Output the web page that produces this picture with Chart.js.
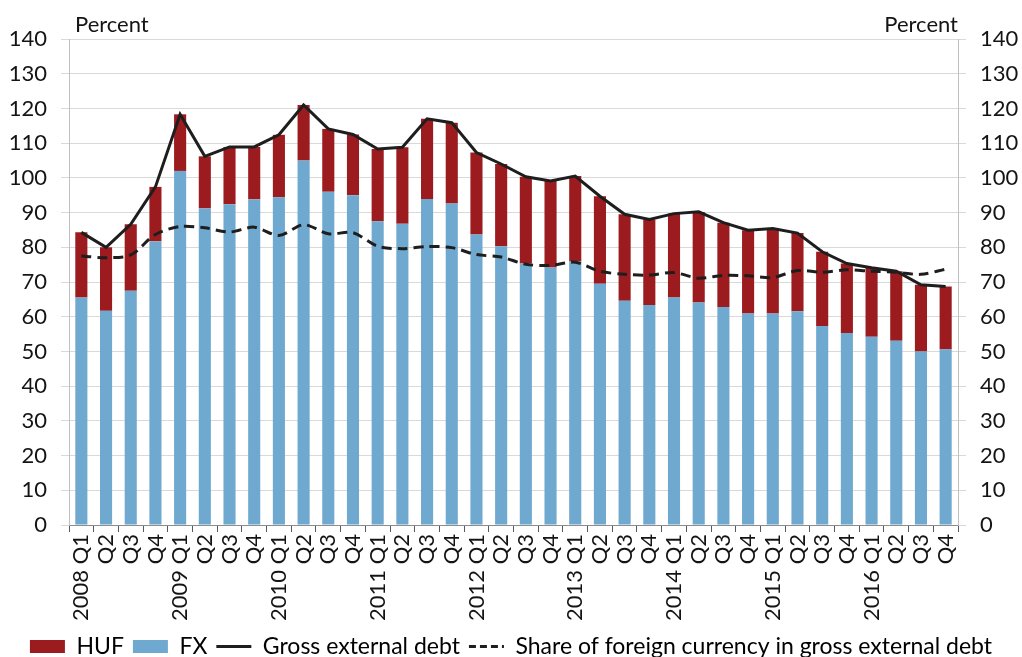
<!DOCTYPE html>
<html>
<head>
<meta charset="utf-8">
<script src="https://cdn.jsdelivr.net/npm/chart.js@4/dist/chart.umd.min.js"></script>
<style>
  html, body { margin: 0; padding: 0; background: #ffffff; }
  #wrap { width: 1022px; height: 657px; position: relative; overflow: hidden; }
</style>
</head>
<body>
<div id="wrap"><canvas id="c" width="1022" height="657"></canvas></div>
<script>
// Quarterly categories, 2008 Q1 – 2016 Q4
const quarters = [
  '2008 Q1','Q2','Q3','Q4',
  '2009 Q1','Q2','Q3','Q4',
  '2010 Q1','Q2','Q3','Q4',
  '2011 Q1','Q2','Q3','Q4',
  '2012 Q1','Q2','Q3','Q4',
  '2013 Q1','Q2','Q3','Q4',
  '2014 Q1','Q2','Q3','Q4',
  '2015 Q1','Q2','Q3','Q4',
  '2016 Q1','Q2','Q3','Q4'
];

// Foreign-currency part of gross external debt (percent of GDP)
const fxDebt = [
  65.5, 61.7, 67.5, 81.7,
  102.0, 91.2, 92.4, 93.8,
  94.4, 105.0, 96.0, 95.0,
  87.5, 86.8, 93.9, 92.6,
  83.7, 80.3, 75.3, 74.2,
  75.9, 69.5, 64.6, 63.4,
  65.5, 64.1, 62.8, 60.9,
  60.9, 61.6, 57.3, 55.3,
  54.2, 53.1, 50.0, 50.6
];

// Forint part of gross external debt (percent of GDP)
const hufDebt = [
  18.8, 18.3, 19.1, 15.7,
  16.3, 15.0, 16.5, 15.1,
  18.0, 16.0, 18.1, 17.5,
  20.8, 22.0, 23.1, 23.3,
  23.6, 23.7, 25.0, 24.9,
  24.6, 25.2, 24.9, 24.6,
  24.2, 26.1, 24.3, 24.0,
  24.5, 22.5, 21.4, 20.0,
  19.9, 20.0, 19.2, 18.1
];

// Gross external debt (percent of GDP)
const grossDebt = [
  84.3, 80.0, 86.6, 97.4,
  118.3, 106.2, 108.9, 108.9,
  112.4, 121.0, 114.1, 112.5,
  108.3, 108.8, 117.0, 115.9,
  107.3, 104.0, 100.3, 99.1,
  100.5, 94.7, 89.5, 88.0,
  89.7, 90.2, 87.1, 84.9,
  85.4, 84.1, 78.7, 75.3,
  74.1, 73.1, 69.2, 68.7
];

// Share of foreign currency in gross external debt (percent)
const fxShare = [
  77.5, 77.0, 77.8, 83.7,
  86.0, 85.6, 84.4, 85.8,
  83.4, 86.5, 83.9, 84.2,
  80.3, 79.6, 80.2, 79.9,
  77.9, 77.2, 75.1, 74.8,
  75.7, 73.1, 72.2, 72.0,
  72.7, 71.1, 71.9, 71.8,
  71.3, 73.3, 72.8, 73.5,
  73.1, 72.8, 72.2, 73.7
];

const yTicks = [0, 10, 20, 30, 40, 50, 60, 70, 80, 90, 100, 110, 120, 130, 140];

const seriesNames = ['HUF', 'FX', 'Gross external debt', 'Share of foreign currency in gross external debt'];

const RED = '#9b1b1f';
const BLUE = '#6fa9cf';
const INK = '#1e1e1e';
const TEXT = '#141414';
const FONT = "Lato, 'Open Sans', 'Liberation Sans', sans-serif";

// "Percent" unit captions above both value axes
const unitCaptions = {
  id: 'unitCaptions',
  afterDraw(chart) {
    const { ctx, chartArea } = chart;
    ctx.save();
    ctx.font = '22px ' + FONT;
    ctx.fillStyle = TEXT;
    ctx.textBaseline = 'alphabetic';
    ctx.textAlign = 'left';
    ctx.fillText('Percent', chartArea.left + 6, chartArea.top - 7);
    ctx.textAlign = 'right';
    ctx.fillText('Percent', chartArea.right, chartArea.top - 7);
    ctx.restore();
  }
};

new Chart(document.getElementById('c'), {
  type: 'bar',
  data: {
    labels: quarters,
    datasets: [
      {
        label: seriesNames[1],
        data: fxDebt,
        backgroundColor: BLUE,
        stack: 'debt',
        order: 2,
        yAxisID: 'y',
        categoryPercentage: 1.0,
        barPercentage: 0.49
      },
      {
        label: seriesNames[0],
        data: hufDebt,
        backgroundColor: RED,
        stack: 'debt',
        order: 2,
        yAxisID: 'y',
        categoryPercentage: 1.0,
        barPercentage: 0.49
      },
      {
        type: 'line',
        label: seriesNames[2],
        data: grossDebt,
        borderColor: INK,
        borderWidth: 3,
        pointRadius: 0,
        tension: 0,
        order: 0,
        yAxisID: 'y'
      },
      {
        type: 'line',
        label: seriesNames[3],
        data: fxShare,
        borderColor: INK,
        borderWidth: 3,
        borderDash: [10, 6],
        pointRadius: 0,
        tension: 0.3,
        order: 1,
        yAxisID: 'y2'
      }
    ]
  },
  options: {
    responsive: false,
    animation: false,
    layout: { padding: { top: 39, left: 0, right: 0, bottom: -11 } },
    plugins: {
      tooltip: { enabled: false },
      legend: {
        position: 'bottom',
        labels: {
          usePointStyle: true,
          pointStyleWidth: 35,
          boxHeight: 13,
          padding: 9,
          color: TEXT,
          font: { family: FONT, size: 23 },
          generateLabels() {
            return [
              { text: seriesNames[0], fillStyle: RED, strokeStyle: RED, lineWidth: 0, pointStyle: 'rect', datasetIndex: 1 },
              { text: seriesNames[1], fillStyle: BLUE, strokeStyle: BLUE, lineWidth: 0, pointStyle: 'rect', datasetIndex: 0 },
              { text: seriesNames[2], fillStyle: INK, strokeStyle: INK, lineWidth: 3, pointStyle: 'line', datasetIndex: 2 },
              { text: seriesNames[3], fillStyle: INK, strokeStyle: INK, lineWidth: 3, lineDash: [7, 4], pointStyle: 'line', datasetIndex: 3 }
            ];
          }
        }
      }
    },
    scales: {
      x: {
        stacked: true,
        offset: true,
        grid: {
          drawOnChartArea: false,
          offset: true,
          tickLength: 7,
          tickColor: '#595959'
        },
        border: { color: '#8c8c8c', width: 1 },
        ticks: {
          autoSkip: false,
          maxRotation: 90,
          minRotation: 90,
          padding: 2,
          color: TEXT,
          font: { family: FONT, size: 22 }
        },
        afterFit(scale) { scale.height = 101; }
      },
      y: {
        stacked: true,
        position: 'left',
        min: 0,
        max: 140,
        afterBuildTicks(scale) { scale.ticks = yTicks.map(v => ({ value: v })); },
        grid: { color: '#d9d9d9', tickLength: 8, tickColor: '#d9d9d9' },
        border: { color: '#bfbfbf' },
        ticks: {
          padding: 14,
          color: TEXT,
          font: { family: FONT, size: 22 }
        },
        afterFit(scale) { scale.width = 69; }
      },
      y2: {
        position: 'right',
        min: 0,
        max: 140,
        afterBuildTicks(scale) { scale.ticks = yTicks.map(v => ({ value: v })); },
        grid: { drawOnChartArea: false, tickLength: 8, tickColor: '#d9d9d9' },
        border: { color: '#bfbfbf' },
        ticks: {
          padding: 14,
          color: TEXT,
          font: { family: FONT, size: 22 }
        },
        afterFit(scale) { scale.width = 64; }
      }
    }
  },
  plugins: [unitCaptions]
});
</script>
</body>
</html>
